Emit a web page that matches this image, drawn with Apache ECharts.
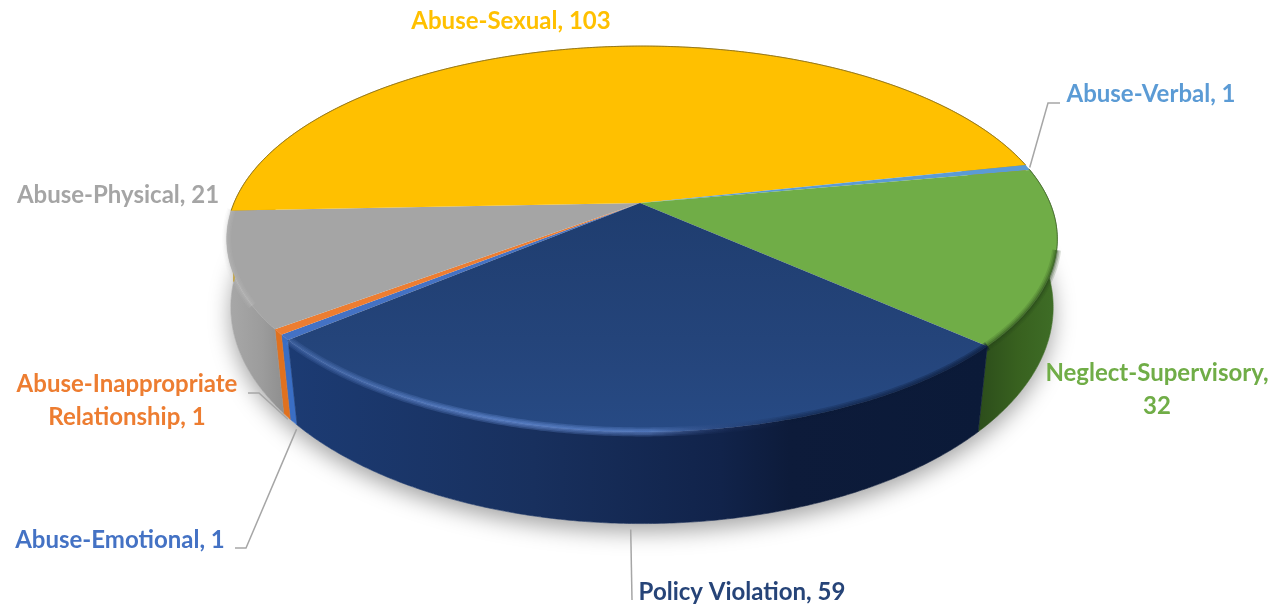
<!DOCTYPE html>
<html><head><meta charset="utf-8">
<style>html,body{margin:0;padding:0;background:#fff}#c{width:1286px;height:610px}</style>
<script src="https://cdn.jsdelivr.net/npm/echarts@6/dist/echarts.min.js"></script>
</head><body><div id="c"></div>
<script>
const categories = ['Abuse-Emotional','Abuse-Inappropriate Relationship','Abuse-Physical','Abuse-Sexual','Abuse-Verbal','Neglect-Supervisory','Policy Violation'];
const values = [1,1,21,103,1,32,59];
const colors = ['#4472C4','#ED7D31','#A5A5A5','#FFC000','#5B9BD5','#70AD47','#264478'];

// drawing style and placement
const startAngle = 229.7;
const topPlane = {ax:642, ay:203, A:408, B:186.2, p:0.1866};
const basePlane = {ax:642, ay:273, A:406, B:211, p:0.158};
const wallStops = [
  [[0,'#3A6EC4'],[1,'#3A6EC4']],
  [[0,'#E0711F'],[1,'#E0711F']],
  [[0,'#A8A8A8'],[0.6,'#9C9C9C'],[1,'#8E8E8E']],
  [[0,'#C79600'],[1,'#C79600']],
  [[0,'#4A7AA8'],[1,'#4A7AA8']],
  [[0,'#2C4D1B'],[0.5,'#38611F'],[1,'#3F6E27']],
  [[0,'#1C3B73'],[0.35,'#18305E'],[0.62,'#11234A'],[0.72,'#0D1B3A'],[1,'#0B1A38']]
];
const wallSpan = {0:[285,296],1:[275,290],2:[228,285],5:[978,1058],6:[290,985]};
const rimBlur = {
  2:{from:240,to:268,color:'200,200,200'},
  5:{from:104,to:132.5,color:'40,70,25'},
  6:{from:132.2,to:229.6,color:null}
};
const navyRim = [[0,'rgba(110,150,225,0.22)'],[0.3,'rgba(110,150,225,0.5)'],[0.52,'rgba(110,150,225,0.42)'],[0.64,'rgba(40,60,110,0.15)'],[0.72,'rgba(10,25,55,0.35)'],[1,'rgba(10,25,55,0.6)']];
const edgeArcs = {3:{from:267.7,to:437.7,color:'#8A7120'},5:{from:79,to:104,color:'#4A6E32'}};
const labelLayout = [
  {x:120,y:540,wrap:false,lead:{at:'base',gap:[3,7],pts:[[246,548],[235,548]]}},
  {x:127,y:401,wrap:true,lead:{at:'base',gap:[1,3],pts:[[259,393],[248,393]]}},
  {x:118,y:195,wrap:false},
  {x:511,y:21,wrap:false},
  {x:1151,y:94,wrap:false,lead:{at:'top',gap:[2,0],pts:[[1048,103],[1060,103]]}},
  {x:1157,y:390,wrap:true},
  {x:742,y:592,wrap:false,lead:{at:'base',gap:[-3,6],pts:[[632,600]]}}
];
const labelFont = 'bold 24px Lato, "Open Sans", sans-serif';

const total = values.reduce((a,b)=>a+b,0);
const starts = [];
values.reduce((acc,v,i)=>{starts[i]=acc;return acc+v/total*360;},startAngle);
const rad = d=>d*Math.PI/180;
function project(pl,theta){
  const u=Math.sin(rad(theta)),v=-Math.cos(rad(theta)),d=1-pl.p*v;
  return [pl.ax+pl.A*u/d, pl.ay+pl.B*v/d];
}
function arc(pl,a,b){
  const pts=[],n=Math.max(2,Math.ceil((b-a)/0.5));
  for(let i=0;i<=n;i++)pts.push(project(pl,a+(b-a)*i/n));
  return pts;
}
const G=(x0,x1,stops)=>new echarts.graphic.LinearGradient(x0,0,x1,0,stops.map(s=>({offset:s[0],color:s[1]})),true);
const navyTop=new echarts.graphic.LinearGradient(0,203,0,430,[{offset:0,color:'#1F3D6F'},{offset:0.6,color:'#24447A'},{offset:1,color:'#274A84'}],true);

function renderWall(params,api){
  const i=params.dataIndex,a=starts[i],b=a+api.value(0)/total*360;
  const ma=((a%360)+360)%360;
  if(!(ma>=78&&ma<268)) return {type:'group',children:[]};
  const t=arc(topPlane,a,b),c=arc(basePlane,a,b).reverse();
  const sp=wallSpan[i]||[0,1];
  return {type:'polygon',shape:{points:t.concat(c)},style:{fill:G(sp[0],sp[1],wallStops[i]),stroke:G(sp[0],sp[1],wallStops[i]),lineWidth:0.6}};
}
function renderTop(params,api){
  const i=params.dataIndex,a=starts[i],b=a+api.value(0)/total*360;
  const r=arc(topPlane,a,b);
  const kids=[{type:'polygon',shape:{points:[[topPlane.ax-2,topPlane.ay]].concat(r)},style:{fill:i===6?navyTop:colors[i]}}];
  const rb=rimBlur[i];
  if(rb){
    const pts=arc(topPlane,rb.from,rb.to);
    [[9,0.10],[6,0.14],[3,0.22]].forEach(w=>{
      const stroke=rb.color?'rgba('+rb.color+','+w[1]*(i===2?0.8:1.6)+')':G(290,985,navyRim);
      kids.push({type:'polyline',shape:{points:pts},style:{fill:null,stroke,lineWidth:w[0],opacity:rb.color?1:0.55}});
    });
  }
  const e=edgeArcs[i];
  if(e) kids.push({type:'polyline',shape:{points:arc(topPlane,e.from,e.to)},style:{fill:null,stroke:e.color,lineWidth:0.9}});
  return {type:'group',children:kids};
}
function renderLabel(params,api){
  const i=params.dataIndex,a=starts[i],b=a+api.value(0)/total*360,l=labelLayout[i];
  let txt=categories[i]+', '+api.value(0);
  if(l.wrap)txt=txt.replace(' ','\n');
  const kids=[{type:'text',style:{text:txt,x:l.x,y:l.y,align:'center',verticalAlign:'middle',font:labelFont,lineHeight:33,fill:colors[i]}}];
  if(l.lead){
    const s=project(l.lead.at==='top'?topPlane:basePlane,(a+b)/2);
    kids.push({type:'polyline',shape:{points:[[s[0]+l.lead.gap[0],s[1]+l.lead.gap[1]]].concat(l.lead.pts)},style:{fill:null,stroke:'#A6A6A6',lineWidth:1.5}});
  }
  return {type:'group',children:kids};
}
function renderShadow(){
  return {type:'polygon',shape:{points:arc(basePlane,0,360)},style:{fill:'#fff',shadowBlur:22,shadowOffsetY:8,shadowColor:'rgba(0,0,0,0.36)'}};
}
const data=values.map((v,i)=>({name:categories[i],value:v}));
const chart=echarts.init(document.getElementById('c'),null,{renderer:'canvas'});
chart.setOption({
  animation:false,
  backgroundColor:'#fff',
  series:[
    {type:'custom',coordinateSystem:'none',z:1,silent:true,data:[{name:'shadow',value:total}],renderItem:renderShadow},
    {type:'custom',coordinateSystem:'none',z:2,silent:true,data,renderItem:renderWall},
    {type:'custom',coordinateSystem:'none',z:3,silent:true,data,renderItem:renderTop},
    {type:'custom',coordinateSystem:'none',z:4,silent:true,data,renderItem:renderLabel}
  ]
});
</script></body></html>
